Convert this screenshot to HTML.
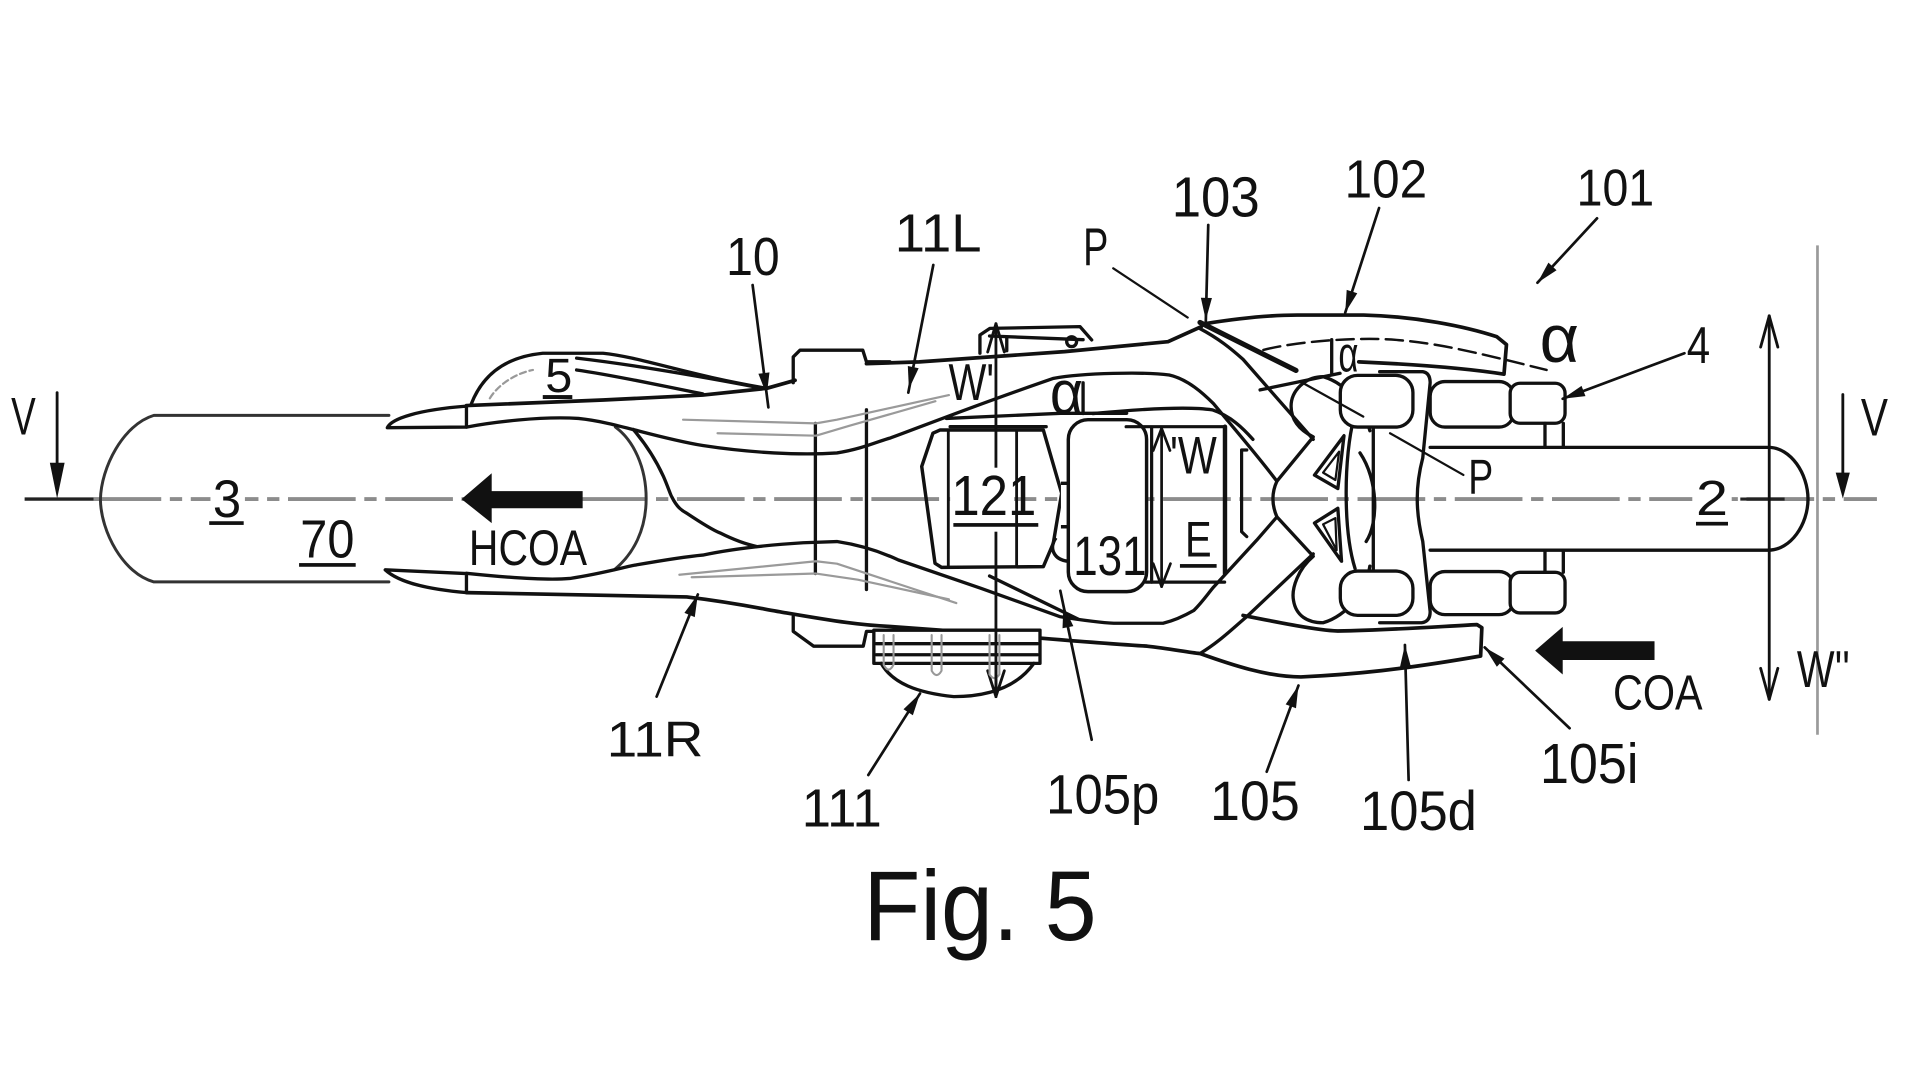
<!DOCTYPE html>
<html><head><meta charset="utf-8">
<style>
html,body{margin:0;padding:0;background:#fff;width:1920px;height:1080px;overflow:hidden}
svg{display:block}
text{font-family:"Liberation Sans",Arial,sans-serif;fill:#111}
</style></head>
<body>
<svg width="1920" height="1080" viewBox="0 0 1560 877.5" xmlns="http://www.w3.org/2000/svg">
<rect width="1560" height="877.5" fill="#fff"/>

<!-- centerline -->
<line x1="76" y1="405.5" x2="1525" y2="405.5" stroke="#8c8c8c" stroke-width="3.2" stroke-dasharray="55 7 10 7"/>
<line x1="20" y1="405.5" x2="76" y2="405.5" stroke="#222" stroke-width="2.8"/>
<line x1="1414" y1="405.5" x2="1450" y2="405.5" stroke="#222" stroke-width="2.6"/>

<!-- right vertical gray line -->
<line x1="1476.7" y1="199.4" x2="1476.7" y2="597" stroke="#9a9a9a" stroke-width="2.2"/>

<g fill="none" stroke="#111" stroke-width="2.7" stroke-linejoin="round" stroke-linecap="round">
  <!-- V arrows -->
  <line x1="46.4" y1="319" x2="46.4" y2="385" stroke-width="2.3"/>
  <line x1="1497.3" y1="320.6" x2="1497.3" y2="385" stroke-width="2.3"/>

  <!-- cylinder 3 -->
  <path d="M316,337.5 L125,337.5 C100,345 82,380 81.6,406 C82,432 100,466 125,472.8 L316,472.8" stroke="#333" stroke-width="2.4"/>
  <path d="M500,347 C515,358 525,380 525,405 C525,430 515,450 499,463" stroke="#333" stroke-width="2.4"/>

  <!-- tabs -->
  <path d="M314.7,347.5 C318,340 340,333 379,330 L379,347 Z"/>
  <path d="M313,463 L379,466 L379,481.5 C350,479 325,474 313,463 Z"/>

  <!-- bump 5 -->
  <path d="M383,328 C392,305 410,290 441,287 L490,287 C520,290 560,305 623,315.5"/>
  <path d="M468.5,291 C520,297 570,306 617,315"/>
  <path d="M468.5,300.6 C500,305 540,314 571,320"/>
  <path d="M398,323.6 C405,312 420,303 433,300.6" stroke="#999" stroke-width="1.8" stroke-dasharray="5 3"/>

  <!-- upper arm outer -->
  <path d="M379,329.5 L490,325 L571,321 L623,315.5 L646,309" stroke-width="3"/>
  <path d="M704,295.5 L747,294 L865,285.7 L949,277.6 L976,265.4" stroke-width="3"/>
  <path d="M644.5,311 L644.5,290 L650,284.5 L701,284.5 L704,294 L723,294"/>

  <!-- upper arm inner -> X -->
  <path d="M379,347 C400,343 440,338 470,340 C500,343 530,355 571,362 C610,368 650,370 680,368 C700,365 715,358 723,356 C740,350 790,330 856,307.4 C880,303 930,302 950,304.7 C965,308 978,320 986,328 C1000,345 1020,368 1037.5,391"/>

  <!-- lower arm inner -> X -->
  <path d="M379,465.8 C400,468 440,472 463,470 C490,466 510,460 517,459 C540,455 560,452 571,451 C590,447 620,443 652.6,441 L680,440 C700,443 715,448 730,455 L797,478 C830,490 850,497 861,501 C880,504 895,506 905,506.4 L945,506.4 C955,504 963,500 970,496 C977,489 981,483 986,477 L1021,439 L1037.5,420"/>
  <path d="M804,468 L876,503"/>

  <!-- lower arm outer -> 105 -->
  <path d="M379,481.5 C450,483 520,484 558,485 C600,490 620,495 639,498 C680,505 700,508 723,509 L798,514.5 C850,519 900,523 932,525 C950,527 965,530 975,531 C1000,540 1030,550 1057,550 C1100,548 1140,544 1203,533 L1204,510 L1200,507.5 C1170,509 1130,512 1087,512.7 C1070,512 1040,506 1010,500" stroke-width="3"/>
  <path d="M644.5,501 L644.5,513 L661,525 L701.4,525 L704,513 L723,513"/>

  <!-- fork throat -->
  <path d="M514.6,349 C524,360 533,374 539,387 C543,396 545,403 546,404 C550,412 554,415 558,417 C570,425 580,431 585,433 C595,438 605,442 614.7,444"/>

  <!-- verticals in fork -->
  <line x1="662.5" y1="344" x2="662.5" y2="466"/>
  <line x1="704" y1="333" x2="704" y2="479"/>

  <!-- gray decorations -->
  <g stroke="#9a9a9a" stroke-width="1.8">
    <path d="M555,341 L663,344 L680,341 L771,321"/>
    <path d="M583,352 L663,354 L690,346 L760,326"/>
    <path d="M552,467 L663,456 L680,458 L777,490"/>
    <path d="M562,469 L663,466 L697,471 L771,487"/>
  </g>

  <!-- X band edges -->
  <path d="M975,267 C990,275 1000,283 1010,292 L1067,357"/>
  <path d="M975,531 C990,522 1000,512 1013,501 L1067,450"/>
  <path d="M888,336 C930,332 965,330 985,333 C1000,338 1010,348 1018,357"/>
  <path d="M1023.8,316.8 L1088.8,303.3"/>
  <path d="M975,262 L1053,301" stroke-width="4.2"/>

  <!-- 102 cam -->
  <path d="M979,263 C1010,258 1035,256 1054,256 L1108,256 C1150,257 1190,265 1216,273.5 L1224,280 L1222,304 C1190,299 1150,296 1104,294" stroke-width="3"/>
  <path d="M1026.5,284.3 C1060,276 1110,274 1134.8,276.2 C1170,279 1200,287 1224,292.5 L1256.6,300.6" stroke-dasharray="14 6" stroke-width="2"/>
  <line x1="1082" y1="276" x2="1082" y2="303"/>

  <!-- bracket -->
  <path d="M1121,302 L1156,302 Q1162,303 1162,311 L1156,372 C1150,395 1150,415 1156,440 L1162,497 Q1162,505 1155,506 L1121,506"/>
  <line x1="1115.8" y1="342" x2="1115.8" y2="465"/>

  <!-- shield -->
  <path d="M1067,355 L1037.5,391 Q1031,405 1037.5,420 L1067,452 C1055,462 1049,478 1051,488 C1053,500 1062,506 1075,506 C1095,500 1110,480 1113,460 M1113,350 C1108,330 1095,312 1075,306 C1060,306 1049,318 1049,330 C1049,342 1057,350 1067,355"/>
  <path d="M1100,340 C1092,370 1091,430 1101,462"/>
  <path d="M1105,368 C1120,390 1120,425 1110,440"/>
  <path d="M1068,386 L1092,354 L1087,397 Z"/>
  <path d="M1075,384 L1088,367 L1085,390 Z" stroke-width="1.8"/>
  <path d="M1068,425 L1087,413 L1090,456 Z"/>
  <path d="M1075,426 L1085,421 L1086,447 Z" stroke-width="1.8"/>

  <!-- capsules -->
  <rect x="1089" y="305" width="59" height="42" rx="14" fill="#fff"/>
  <rect x="1089" y="464" width="59" height="36" rx="14" fill="#fff"/>
  <rect x="1162" y="310" width="68" height="37" rx="12" fill="#fff"/>
  <rect x="1227" y="311.4" width="44.6" height="32.5" rx="8" fill="#fff"/>
  <rect x="1162" y="464.4" width="68" height="35" rx="12" fill="#fff"/>
  <rect x="1227" y="465" width="44.6" height="33" rx="8" fill="#fff"/>
  <line x1="1255.3" y1="344" x2="1255.3" y2="363.5"/>
  <line x1="1270.2" y1="344" x2="1270.2" y2="363.5"/>
  <line x1="1255.3" y1="447" x2="1255.3" y2="465"/>
  <line x1="1270.2" y1="447" x2="1270.2" y2="465"/>

  <!-- shaft 2 -->
  <path d="M1162,363.5 L1437,363.5 C1455,363.5 1469,385 1469,405.5 C1469,426 1455,447 1437,447 L1162,447"/>

  <!-- upper bracket near W' -->
  <path d="M796.2,287 L796.2,272.2 L804.3,266.8 L877.5,265.4 L887,276.2"/>
  <line x1="804" y1="273" x2="880" y2="276"/>
  <circle cx="870.7" cy="277.6" r="4"/>
  <line x1="818" y1="275" x2="818" y2="285"/>

  <!-- a-box mid -->
  <line x1="880" y1="311" x2="880" y2="336"/>
  <path d="M769,340 L861.7,335.8 L915.4,335.8"/>
  <line x1="772" y1="346.7" x2="850" y2="346.7"/>

  <!-- W' dimension -->
  <line x1="809.2" y1="263" x2="809.2" y2="566" stroke-width="2.3"/>
  <path d="M802.5,286 L809.2,263 L816,286 M802.5,545 L809.2,566 L816,545" stroke-width="2.3"/>

  <!-- 111 element -->
  <rect x="710" y="512" width="135" height="27" fill="#fff"/>
  <line x1="712" y1="523" x2="843" y2="523"/>
  <line x1="712" y1="532" x2="843" y2="532"/>
  <path d="M716,539 C725,555 745,563 775,566 C800,566 825,560 840,539"/>
  <g stroke="#999" stroke-width="1.7">
    <path d="M718,516 L718,540 Q722,548 726,540 L726,516"/>
    <path d="M757,516 L757,545 Q761,552 765,545 L765,516"/>
    <path d="M804,516 L804,548 Q808,554 812,548 L812,516"/>
  </g>
  <line x1="809.2" y1="512" x2="809.2" y2="566" stroke-width="2.3"/>
</g>

<!-- 121 box -->
<rect x="772" y="380" width="52" height="52" fill="#fff"/>
<g fill="none" stroke="#111" stroke-width="2.8" stroke-linejoin="round">
  <path d="M763.7,349.4 L847.7,349.4 L862.6,400.8 L855.8,441.4 L847.7,460.4 L765,461 L759.7,457.7 L748.9,379 L758,352 Z"/>
  <line x1="770.5" y1="349.4" x2="770.5" y2="460.4" stroke-width="2.3"/>
  <line x1="826" y1="349.4" x2="826" y2="460.4" stroke-width="2.3"/>
</g>

<!-- D tab and 131 box -->
<g fill="#fff" stroke="#111" stroke-width="2.8" stroke-linejoin="round">
  <path d="M862,392.7 L892,392.7 C903,395 907,403 907,410 C907,420 900,427 892,428 L862,428"/>
  <path d="M858,437 C852,445 856,455 868,456" fill="none"/>
  <rect x="868" y="341" width="63.6" height="139.7" rx="16"/>
</g>

<!-- W / E box -->
<g fill="none" stroke="#111" stroke-width="2.6" stroke-linejoin="round" stroke-linecap="round">
  <path d="M915,346.7 L995.3,346.7"/>
  <line x1="935.7" y1="348" x2="935.7" y2="473"/>
  <line x1="995.3" y1="346.7" x2="995.3" y2="466" stroke-width="3.6"/>
  <line x1="931" y1="473" x2="995" y2="473"/>
  <line x1="943.8" y1="348" x2="943.8" y2="476.6" stroke-width="2.2"/>
  <path d="M937,366 L943.8,348 L950.6,366 M937,458 L943.8,476.6 L951,458" stroke-width="2.2"/>
  <path d="M1013,365.6 L1008.8,365.6 L1008.8,432 L1013,436"/>
</g>

<!-- W'' dimension -->
<g fill="none" stroke="#111" stroke-width="2.3" stroke-linecap="round" stroke-linejoin="round">
  <line x1="1437.5" y1="256.6" x2="1437.5" y2="568.2"/>
  <path d="M1430.5,282 L1437.5,256.6 L1444.5,282 M1430.5,543 L1437.5,568.2 L1444.5,543"/>
</g>

<!-- leaders -->
<g stroke="#111" stroke-width="2.2" fill="none" stroke-linecap="round">
  <line x1="611.5" y1="231.6" x2="624.3" y2="331"/>
  <line x1="758.3" y1="215.3" x2="738" y2="319"/>
  <line x1="904.5" y1="218" x2="965" y2="258" stroke-width="1.8"/>
  <line x1="1059" y1="311.4" x2="1107.7" y2="338.5" stroke-width="1.8"/>
  <line x1="1129.4" y1="352" x2="1189" y2="385.9" stroke-width="1.8"/>
  <line x1="981.7" y1="182.8" x2="979.7" y2="262"/>
  <line x1="1120.5" y1="169" x2="1093" y2="254"/>
  <line x1="1297.6" y1="177.4" x2="1249.2" y2="229.7"/>
  <line x1="1368.6" y1="287" x2="1269.7" y2="324"/>
  <line x1="1275.3" y1="591.7" x2="1206.3" y2="526"/>
  <line x1="1144.5" y1="633.7" x2="1141.5" y2="524"/>
  <line x1="1029.2" y1="627" x2="1055" y2="557"/>
  <line x1="887" y1="601" x2="861.5" y2="480"/>
  <line x1="705.5" y1="629.7" x2="747.5" y2="563.5"/>
  <line x1="533.5" y1="566" x2="567" y2="483"/>
</g>
<g fill="#111" stroke="none">
  <polygon points="40.5,376 52.5,376 46.4,405"/>
  <polygon points="1491.5,384 1503,384 1497.3,405"/>
  <polygon points="623,321 625.2,302.6 616.2,303.7"/>
  <polygon points="738.5,316 746.4,299.2 737.6,297.4"/>
  <polygon points="979.7,260 984.7,242.1 975.7,241.9"/>
  <polygon points="1093,254 1102.8,238.3 1094.2,235.5"/>
  <polygon points="1249.2,229.7 1264.7,219.6 1258.1,213.4"/>
  <polygon points="1269.7,324 1288.2,321.9 1285,313.5"/>
  <polygon points="1206.3,526 1222.4,535.1 1216.2,541.7"/>
  <polygon points="1141.5,524 1146.5,542.1 1137.5,541.9"/>
  <polygon points="1055,557 1053,575.5 1044.6,572.3"/>
  <polygon points="864,492 872.1,508.7 863.3,510.5"/>
  <polygon points="747.5,563.5 741.7,581.1 734.1,576.3"/>
  <polygon points="567,483 564.5,501.4 556.1,498"/>
  <!-- HCOA arrow -->
  <polygon points="375,405.5 399.5,384.5 399.5,399 473.4,399 473.4,413 399.5,413 399.5,425"/>
  <!-- COA arrow -->
  <polygon points="1247.3,528.6 1269.7,509.3 1269.7,521 1344.3,521 1344.3,536.3 1269.7,536.3 1269.7,548"/>
  <!-- underlines -->
  <rect x="170" y="423.5" width="28" height="3"/>
  <rect x="243" y="457.5" width="46" height="3"/>
  <rect x="441" y="321" width="24" height="3.2"/>
  <rect x="774.6" y="425" width="69" height="3"/>
  <rect x="958.7" y="458.3" width="29.8" height="3"/>
  <rect x="1378" y="424" width="26" height="3"/>
</g>

<!-- label backgrounds on centerline -->
<rect x="171" y="396" width="28" height="20" fill="#fff"/>
<rect x="1375" y="396" width="32" height="20" fill="#fff"/>

<!-- labels -->
<text x="9" y="353" font-size="43" textLength="20" lengthAdjust="spacingAndGlyphs">V</text>
<text x="1512" y="354" font-size="43" textLength="22" lengthAdjust="spacingAndGlyphs">V</text>
<text x="173" y="420" font-size="43" textLength="23" lengthAdjust="spacingAndGlyphs">3</text>
<text x="244" y="453" font-size="44" textLength="44" lengthAdjust="spacingAndGlyphs">70</text>
<text x="381" y="459" font-size="41" textLength="96" lengthAdjust="spacingAndGlyphs">HCOA</text>
<text x="443" y="318.5" font-size="39" textLength="22" lengthAdjust="spacingAndGlyphs">5</text>
<text x="590" y="223.4" font-size="44" textLength="43.5" lengthAdjust="spacingAndGlyphs">10</text>
<text x="727" y="204.5" font-size="44" textLength="70.5" lengthAdjust="spacingAndGlyphs">11L</text>
<text x="880" y="215.3" font-size="43" textLength="20.5" lengthAdjust="spacingAndGlyphs">P</text>
<text x="952" y="176" font-size="46" textLength="71.5" lengthAdjust="spacingAndGlyphs">103</text>
<text x="1092.5" y="160.6" font-size="44" textLength="67" lengthAdjust="spacingAndGlyphs">102</text>
<text x="1281" y="167" font-size="42" textLength="63" lengthAdjust="spacingAndGlyphs">101</text>
<text x="1251" y="294" font-size="55" textLength="32" lengthAdjust="spacingAndGlyphs">α</text>
<text x="1370.5" y="295" font-size="42" textLength="19" lengthAdjust="spacingAndGlyphs">4</text>
<text x="1087.4" y="302" font-size="41" textLength="16.3" lengthAdjust="spacingAndGlyphs">α</text>
<text x="853" y="335.8" font-size="50" textLength="27" lengthAdjust="spacingAndGlyphs">α</text>
<text x="770.7" y="325" font-size="42" textLength="37" lengthAdjust="spacingAndGlyphs">W'</text>
<text x="773" y="418.4" font-size="46" textLength="69" lengthAdjust="spacingAndGlyphs">121</text>
<text x="872" y="467" font-size="45" textLength="59.6" lengthAdjust="spacingAndGlyphs">131</text>
<text x="950.6" y="384.6" font-size="43" textLength="38" lengthAdjust="spacingAndGlyphs">'W</text>
<text x="962.8" y="452.3" font-size="41" textLength="21.6" lengthAdjust="spacingAndGlyphs">E</text>
<text x="1193" y="400.8" font-size="40" textLength="20.3" lengthAdjust="spacingAndGlyphs">P</text>
<text x="1378" y="418.3" font-size="40" textLength="26" lengthAdjust="spacingAndGlyphs">2</text>
<text x="1310.6" y="576.6" font-size="40" textLength="72.8" lengthAdjust="spacingAndGlyphs">COA</text>
<text x="1460" y="558" font-size="42" textLength="43" lengthAdjust="spacingAndGlyphs">W''</text>
<text x="1251.2" y="636.4" font-size="46" textLength="80" lengthAdjust="spacingAndGlyphs">105i</text>
<text x="1105" y="674.4" font-size="45" textLength="95" lengthAdjust="spacingAndGlyphs">105d</text>
<text x="983.1" y="666.2" font-size="45" textLength="73" lengthAdjust="spacingAndGlyphs">105</text>
<text x="850" y="661" font-size="45" textLength="92" lengthAdjust="spacingAndGlyphs">105p</text>
<text x="651.4" y="671.7" font-size="43.5" textLength="65" lengthAdjust="spacingAndGlyphs">111</text>
<text x="493" y="614.8" font-size="41" textLength="78.5" lengthAdjust="spacingAndGlyphs">11R</text>
<text x="701.5" y="763.7" font-size="81" textLength="189.5" lengthAdjust="spacingAndGlyphs">Fig. 5</text>
</svg>
</body></html>
